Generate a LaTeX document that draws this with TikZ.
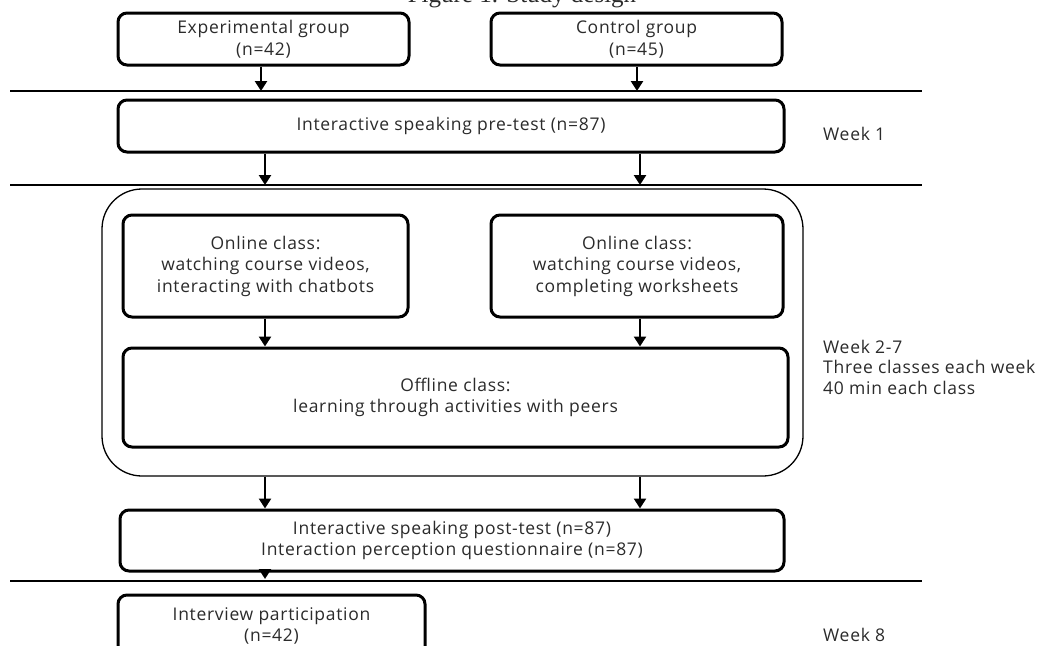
\documentclass[tikz,border=0pt]{standalone}
\usepackage{fontspec}
\setmainfont{Open Sans}[LetterSpace=4]
\newfontfamily\titlefont{Liberation Serif}
\usetikzlibrary{arrows.meta}
\definecolor{txt}{HTML}{2B2B2B}
\tikzset{
  box/.style={draw=black, line width=3pt, rounded corners=9pt, align=center,
    text=txt, font=\fontsize{17.5}{21.5}\selectfont, inner sep=0pt},
  sep/.style={draw=black, line width=1.6pt},
  arr/.style={draw=black, line width=2.8pt, -{Triangle[width=12pt,length=10pt]}},
  week/.style={anchor=base west, text=txt, font=\fontsize{17.5}{20.5}\selectfont, align=left, inner sep=0pt}
}
\begin{document}
\begin{tikzpicture}[x=1pt,y=-1pt]
\useasboundingbox (0,0) rectangle (1046,645);
\clip (0,0) rectangle (1046,645);
\fill[white] (0,0) rectangle (1046,645);
% title (cut off at the top, as in the reference)
\node[anchor=base, inner sep=0pt, text=txt, font=\titlefont\fontsize{25}{28}\selectfont] (title) at (522,2.5) {Figure 1. Study design};
% separators
\coordinate (l1a) at (10,91);  \coordinate (l1b) at (922,91);
\coordinate (l2a) at (10,185); \coordinate (l2b) at (922,185);
\coordinate (l3a) at (10,581); \coordinate (l3b) at (922,581);
\draw[sep] (l1a) -- (l1b);
\draw[sep] (l2a) -- (l2b);
\draw[sep] (l3a) -- (l3b);
% groups
\node[box, minimum width=291pt, minimum height=52pt] (eg) at (263.5,39) {Experimental group\\(n=42)};
\node[box, minimum width=291pt, minimum height=52pt] (cg) at (636.5,39) {Control group\\(n=45)};
% pre-test
\node[box, minimum width=666pt, minimum height=52pt] (pre) at (451,126) {Interactive speaking pre-test (n=87)};
% container
\node[draw=black, line width=1.3pt, rounded corners=40pt, minimum width=701pt, minimum height=287pt, inner sep=0pt] (cont) at (452.5,332.5) {};
\node[box, minimum width=285pt, minimum height=102pt] (on1) at (265.5,266) {Online class:\\watching course videos,\\interacting with chatbots};
\node[box, minimum width=292pt, minimum height=102pt] (on2) at (637,266) {Online class:\\watching course videos,\\completing worksheets};
\node[box, minimum width=665pt, minimum height=99pt] (off) at (455.5,397.5) {Offline class:\\learning through activities with peers};
% post-test
\node[box, minimum width=664pt, minimum height=61pt] (post) at (452,540.5) {Interactive speaking post-test (n=87)\\Interaction perception questionnaire (n=87)};
% interview
\node[box, minimum width=307pt, minimum height=62pt] (int) at (271.5,626) {Interview participation\\(n=42)};
% arrows
\coordinate (a1) at (261,91);
\coordinate (a2) at (637,91);
\draw[arr] (eg.south -| a1) -- (a1);
\draw[arr] (cg.south -| a2) -- (a2);
\coordinate (b1) at (265,185);
\coordinate (b2) at (640,185);
\draw[arr] (pre.south -| b1) -- (b1);
\draw[arr] (pre.south -| b2) -- (b2);
\draw[arr] (on1.south -| b1) -- (off.north -| b1);
\draw[arr] (on2.south -| b2) -- (off.north -| b2);
\draw[arr] (cont.south -| b1) -- (post.north -| b1);
\draw[arr] (cont.south -| b2) -- (post.north -| b2);
\coordinate (c1) at (265,579);
\draw[arr] (post.south -| c1) -- (c1);
% week labels
\node[week] (w1) at (823,140) {Week 1};
\node[week] (w2) at (823,394) {Week 2-7\\Three classes each week\\40 min each class};
\node[week] (w8) at (823,641) {Week 8};
\end{tikzpicture}
\end{document}
